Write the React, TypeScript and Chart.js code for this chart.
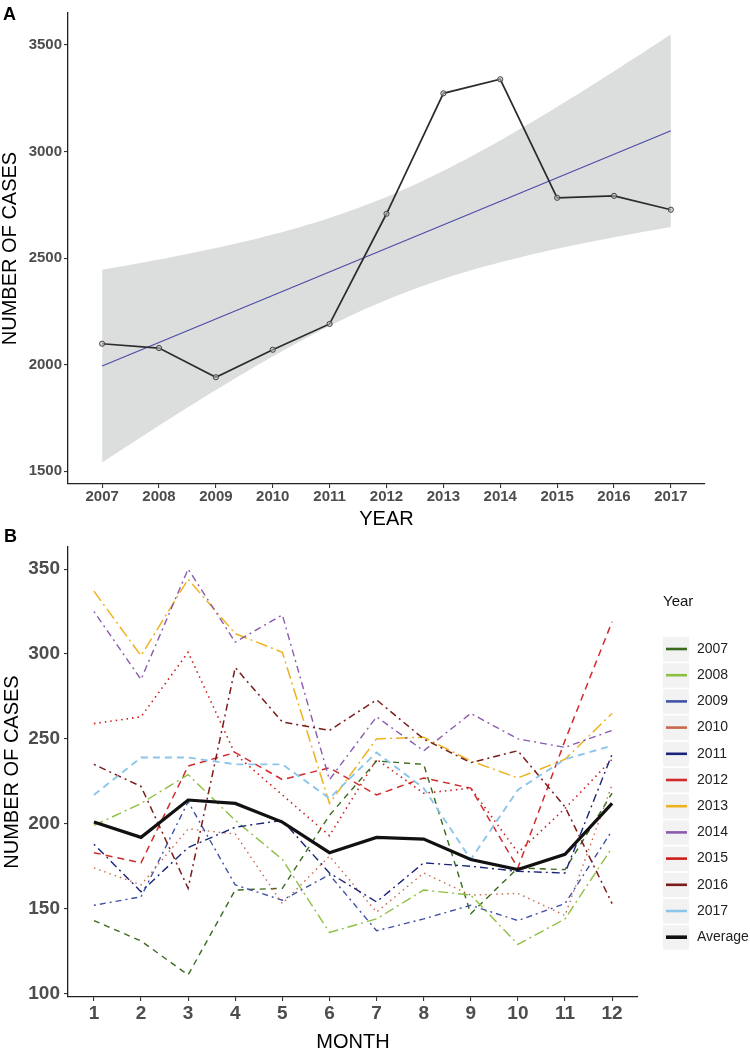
import React, { useEffect, useRef } from "react";
import { Chart, registerables } from "chart.js";

Chart.register(...registerables);

const FONT = '"Liberation Sans", Arial, Helvetica, sans-serif';

// ---------- Panel A data ----------
const YEARS = [2007, 2008, 2009, 2010, 2011, 2012, 2013, 2014, 2015, 2016, 2017];
const ANNUAL_CASES = [2098, 2078, 1941, 2070, 2191, 2708, 3273, 3339, 2783, 2792, 2727];
const A_Y_TICKS = [1500, 2000, 2500, 3000, 3500];

// ---------- Panel B data ----------
const MONTHS = [1, 2, 3, 4, 5, 6, 7, 8, 9, 10, 11, 12];
const B_Y_TICKS = [100, 150, 200, 250, 300, 350];
const SERIES_LABELS = ["2007", "2008", "2009", "2010", "2011", "2012", "2013", "2014", "2015", "2016", "2017", "Average"];
const CASES_2007 = [143, 131, 111, 161, 162, 205, 237, 235, 147, 174, 173, 218];
const CASES_2008 = [199, 212, 229, 202, 179, 136, 144, 161, 158, 129, 144, 186];
const CASES_2009 = [152, 157, 213, 164, 155, 170, 137, 144, 152, 143, 153, 196];
const CASES_2010 = [174, 164, 197, 194, 153, 181, 148, 171, 158, 159, 146, 223];
const CASES_2011 = [188, 160, 186, 198, 202, 171, 154, 177, 175, 172, 171, 241];
const CASES_2012 = [183, 177, 234, 242, 226, 233, 217, 227, 221, 174, 249, 319];
const CASES_2013 = [337, 299, 344, 312, 301, 212, 250, 251, 237, 227, 238, 265];
const CASES_2014 = [325, 285, 350, 307, 323, 226, 263, 243, 265, 250, 245, 255];
const CASES_2015 = [259, 263, 301, 241, 217, 193, 238, 218, 221, 183, 209, 238];
const CASES_2016 = [235, 222, 162, 292, 260, 255, 273, 250, 236, 243, 210, 153];
const CASES_2017 = [217, 239, 239, 235, 235, 215, 242, 221, 179, 220, 238, 246];
const AVERAGE = [201, 192, 214, 212, 201, 183, 192, 191, 179, 173, 182, 212];

// ---------- styles ----------
const SERIES_COLORS = [
  "#3A6A1E", "#8DBF42", "#4253A6", "#C7694D", "#19237A", "#D12B2B",
  "#EDB21F", "#8B5BAE", "#CC1C1C", "#7A1C1C", "#8CC5EA", "#111111",
];
const SERIES_DASHES: number[][] = [
  [6, 5], [10, 4, 2, 4], [2, 4, 6, 4], [1.5, 4], [2, 4, 8, 4], [7, 5],
  [12, 4, 2, 4], [2, 4, 7, 4], [1.5, 4], [2, 4, 7, 4], [7, 5], [],
];
const SERIES_WIDTHS = [1.4, 1.4, 1.4, 1.4, 1.4, 1.5, 1.5, 1.4, 1.6, 1.5, 1.9, 3.2];

// linear model fit (as geom_smooth(method = "lm"))
const T_975_DF9 = 2.262;
function fitLine(xs: number[], ys: number[]) {
  const n = xs.length;
  const mx = xs.reduce((s, v) => s + v, 0) / n;
  const my = ys.reduce((s, v) => s + v, 0) / n;
  let sxx = 0;
  let sxy = 0;
  xs.forEach((x, i) => {
    sxx += (x - mx) * (x - mx);
    sxy += (x - mx) * (ys[i] - my);
  });
  const slope = sxy / sxx;
  const icpt = my - slope * mx;
  let sse = 0;
  xs.forEach((x, i) => {
    const r = ys[i] - (icpt + slope * x);
    sse += r * r;
  });
  const s = Math.sqrt(sse / (n - 2));
  return {
    predict: (x: number) => icpt + slope * x,
    se: (x: number) => s * Math.sqrt(1 / n + ((x - mx) * (x - mx)) / sxx),
  };
}

function axisCommon(tickSize: number, pad: number) {
  return {
    grid: { display: true, drawOnChartArea: false, drawTicks: true, tickLength: 4, color: "#333", lineWidth: 1.1 },
    border: { display: true, color: "#222", width: 1.3 },
    ticks: {
      color: "#4d4d4d",
      font: { family: FONT, size: tickSize, weight: "bold" as const },
      padding: pad,
      maxRotation: 0,
      autoSkip: false,
      callback: (v: any) => String(v),
    },
  };
}

const yearLegend = {
  id: "yearLegend",
  afterDraw(chart: any) {
    const ctx = chart.ctx as CanvasRenderingContext2D;
    ctx.save();
    ctx.textBaseline = "middle";
    ctx.textAlign = "left";
    ctx.fillStyle = "#111";
    ctx.font = `15px ${FONT}`;
    ctx.fillText("Year", 663, 72);
    chart.data.datasets.forEach((ds: any, i: number) => {
      const cy = 119 + i * 26.2;
      ctx.fillStyle = "#f2f2f2";
      ctx.fillRect(663, cy - 12, 26, 24.5);
      ctx.setLineDash([]);
      ctx.strokeStyle = ds.borderColor;
      ctx.lineWidth = i === chart.data.datasets.length - 1 ? 3.6 : 2.6;
      ctx.beginPath();
      ctx.moveTo(666, cy);
      ctx.lineTo(687, cy);
      ctx.stroke();
      ctx.fillStyle = "#222";
      ctx.font = `14px ${FONT}`;
      ctx.fillText(ds.label, 697, cy);
    });
    ctx.restore();
  },
};

export default function App() {
  const refA = useRef<HTMLCanvasElement>(null);
  const refB = useRef<HTMLCanvasElement>(null);

  useEffect(() => {
    const fit = fitLine(YEARS, ANNUAL_CASES);
    const first = YEARS[0];
    const last = YEARS[YEARS.length - 1];
    const grid: number[] = [];
    for (let i = 0; i <= 80; i++) grid.push(first + ((last - first) * i) / 80);

    const chartA = new Chart(refA.current!, {
      type: "line",
      data: {
        datasets: [
          {
            label: "upper",
            data: grid.map((x) => ({ x, y: fit.predict(x) + T_975_DF9 * fit.se(x) })),
            borderWidth: 0,
            borderColor: "rgba(0,0,0,0)",
            pointRadius: 0,
            fill: "+1",
            backgroundColor: "#dcdddd",
            order: 4,
          },
          {
            label: "lower",
            data: grid.map((x) => ({ x, y: fit.predict(x) - T_975_DF9 * fit.se(x) })),
            borderWidth: 0,
            borderColor: "rgba(0,0,0,0)",
            pointRadius: 0,
            fill: false,
            order: 3,
          },
          {
            label: "fit",
            data: [first, last].map((x) => ({ x, y: fit.predict(x) })),
            borderColor: "#4a4aa6",
            borderWidth: 1.1,
            pointRadius: 0,
            fill: false,
            order: 2,
          },
          {
            label: "cases",
            data: YEARS.map((x, i) => ({ x, y: ANNUAL_CASES[i] })),
            borderColor: "#2b2b2b",
            borderWidth: 1.7,
            pointRadius: 2.6,
            pointBorderWidth: 1,
            pointBorderColor: "#444",
            pointBackgroundColor: "rgba(190,190,190,0.6)",
            fill: false,
            tension: 0,
            order: 1,
          },
        ],
      },
      options: {
        responsive: false,
        animation: false,
        devicePixelRatio: 1,
        layout: { padding: { top: 13, right: 45, left: 0, bottom: 0 } },
        plugins: { legend: { display: false }, tooltip: { enabled: false } },
        scales: {
          x: {
            type: "linear",
            min: 2006.4,
            max: 2017.6,
            afterBuildTicks: (s: any) => {
              s.ticks = YEARS.map((v) => ({ value: v }));
            },
            afterFit: (s: any) => {
              s.height = 56;
            },
            ...axisCommon(15, 0),
            title: {
              display: true,
              text: "YEAR",
              color: "#000",
              font: { family: FONT, size: 20, lineHeight: 1 },
              padding: { top: 0, bottom: 11 },
            },
          },
          y: {
            type: "linear",
            min: 1440,
            max: 3650,
            afterBuildTicks: (s: any) => {
              s.ticks = A_Y_TICKS.map((v) => ({ value: v }));
            },
            afterFit: (s: any) => {
              s.width = 68;
            },
            ...axisCommon(15, 2),
            title: {
              display: true,
              text: "NUMBER OF CASES",
              color: "#000",
              font: { family: FONT, size: 20, lineHeight: 1 },
              padding: { top: 0, bottom: 0 },
            },
          },
        },
      } as any,
    });

    const seriesValues = [
      CASES_2007, CASES_2008, CASES_2009, CASES_2010, CASES_2011, CASES_2012,
      CASES_2013, CASES_2014, CASES_2015, CASES_2016, CASES_2017, AVERAGE,
    ];

    const chartB = new Chart(refB.current!, {
      type: "line",
      data: {
        datasets: seriesValues.map((vals, i) => ({
          label: SERIES_LABELS[i],
          data: MONTHS.map((m, j) => ({ x: m, y: vals[j] })),
          borderColor: SERIES_COLORS[i],
          borderDash: SERIES_DASHES[i],
          borderWidth: SERIES_WIDTHS[i],
          pointRadius: 0,
          fill: false,
          tension: 0,
          order: seriesValues.length - i,
        })),
      },
      options: {
        responsive: false,
        animation: false,
        devicePixelRatio: 1,
        layout: { padding: { top: 17, right: 112, left: 0, bottom: 0 } },
        plugins: { legend: { display: false }, tooltip: { enabled: false } },
        scales: {
          x: {
            type: "linear",
            min: 0.45,
            max: 12.55,
            afterBuildTicks: (s: any) => {
              s.ticks = MONTHS.map((v) => ({ value: v }));
            },
            afterFit: (s: any) => {
              s.height = 57;
            },
            ...axisCommon(19, 1),
            title: {
              display: true,
              text: "MONTH",
              color: "#000",
              font: { family: FONT, size: 20, lineHeight: 1 },
              padding: { top: 0, bottom: 2 },
            },
          },
          y: {
            type: "linear",
            min: 98,
            max: 363,
            afterBuildTicks: (s: any) => {
              s.ticks = B_Y_TICKS.map((v) => ({ value: v }));
            },
            afterFit: (s: any) => {
              s.width = 68;
            },
            ...axisCommon(19, 4),
            title: {
              display: true,
              text: "NUMBER OF CASES",
              color: "#000",
              font: { family: FONT, size: 20, lineHeight: 1 },
              padding: { top: 2, bottom: 0 },
            },
          },
        },
      } as any,
      plugins: [yearLegend],
    });

    return () => {
      chartA.destroy();
      chartB.destroy();
    };
  }, []);

  return (
    <div style={{ position: "absolute", left: 0, top: 0, width: 750, height: 1054, background: "#fff" }}>
      <canvas
        ref={refA}
        width={750}
        height={540}
        style={{ position: "absolute", left: 0, top: 0, width: 750, height: 540, display: "block" }}
      />
      <canvas
        ref={refB}
        width={750}
        height={524}
        style={{ position: "absolute", left: 0, top: 530, width: 750, height: 524, display: "block" }}
      />
      <div style={{ position: "absolute", left: 3, top: 5, font: `bold 18px ${FONT}`, lineHeight: "18px", color: "#000" }}>A</div>
      <div style={{ position: "absolute", left: 4, top: 527, font: `bold 18px ${FONT}`, lineHeight: "18px", color: "#000" }}>B</div>
    </div>
  );
}
